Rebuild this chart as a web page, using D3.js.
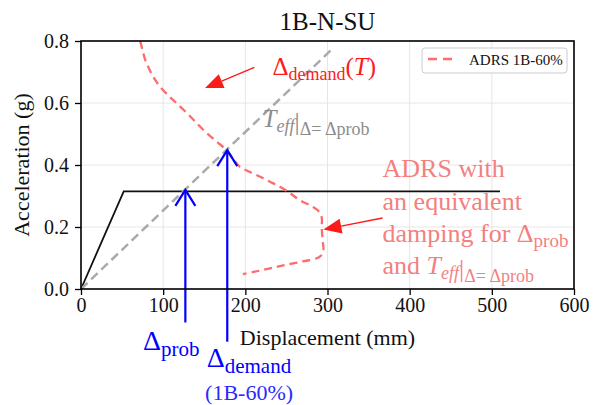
<!DOCTYPE html>
<html>
<head>
<meta charset="utf-8">
<script src="https://cdn.jsdelivr.net/npm/d3@7"></script>
<style>
  body { margin: 0; background: #fff; }
  text { font-family: "Liberation Serif", "Times New Roman", serif; }
</style>
</head>
<body>
<div id="chart"></div>
<script>
// ADRS curve (1B-60%)
var adrsDisp = [72, 75, 78, 83, 89, 97, 108, 118, 129, 139, 149, 163, 177, 185, 193, 205, 218, 230, 242, 254, 266, 280, 289, 293, 293, 294, 295, 293, 287, 270, 250, 236, 222, 210, 197];
var adrsAcc  = [0.80, 0.77, 0.74, 0.71, 0.68, 0.65, 0.62, 0.595, 0.567, 0.54, 0.513, 0.48, 0.448, 0.42, 0.395, 0.378, 0.362, 0.346, 0.33, 0.31, 0.287, 0.268, 0.252, 0.23, 0.2, 0.16, 0.126, 0.11, 0.099, 0.089, 0.078, 0.07, 0.062, 0.055, 0.048];

// capacity curve
var capDisp = [0, 52, 510];
var capAcc  = [0, 0.315, 0.315];

// effective period line
var teffDisp = [0, 306];
var teffAcc  = [0, 0.775];

// displacements marked with blue arrows
var arrowDisp = [127, 178];
var arrowAcc  = [0.32, 0.448];

var xTicks = [0, 100, 200, 300, 400, 500, 600];
var yTicks = [0, 0.2, 0.4, 0.6, 0.8];

var margin = {top: 41, right: 20, bottom: 116, left: 81};
var width = 594 - margin.left - margin.right,
    height = 405 - margin.top - margin.bottom;

var svg = d3.select("#chart").append("svg")
  .attr("width", 594).attr("height", 405)
  .attr("font-family", "'Liberation Serif', serif");

var g = svg.append("g")
  .attr("transform", "translate(" + margin.left + "," + margin.top + ")");

var x = d3.scaleLinear().domain([0, 600]).range([0, width]);
var y = d3.scaleLinear().domain([0, 0.8]).range([height, 0]);

// grid
g.append("g").selectAll("line").data(xTicks).enter().append("line")
  .attr("x1", function(d){ return x(d) }).attr("x2", function(d){ return x(d) })
  .attr("y1", 0).attr("y2", height)
  .attr("stroke", "#e6e6e6").attr("stroke-width", 1);
g.append("g").selectAll("line").data(yTicks).enter().append("line")
  .attr("y1", function(d){ return y(d) }).attr("y2", function(d){ return y(d) })
  .attr("x1", 0).attr("x2", width)
  .attr("stroke", "#e6e6e6").attr("stroke-width", 1);

var line = d3.line()
  .x(function(d){ return x(d[0]) })
  .y(function(d){ return y(d[1]) });

// capacity
g.append("path")
  .datum(d3.zip(capDisp, capAcc))
  .attr("d", line)
  .attr("fill", "none").attr("stroke", "#111").attr("stroke-width", 1.8);

// Teff line
g.append("path")
  .datum(d3.zip(teffDisp, teffAcc))
  .attr("d", line)
  .attr("fill", "none").attr("stroke", "#aaaaaa").attr("stroke-width", 2.5)
  .attr("stroke-dasharray", "9,5");

// ADRS curve
var adrsColor = "#ff6b6b";
g.append("path")
  .datum(d3.zip(adrsDisp, adrsAcc))
  .attr("d", line.curve(d3.curveCatmullRom))
  .attr("fill", "none").attr("stroke", adrsColor).attr("stroke-width", 2.3)
  .attr("stroke-dasharray", "8,5");
line.curve(d3.curveLinear);

// blue arrows
var arrowBottom = [-0.108, -0.17];
arrowDisp.forEach(function(d, i){
  var ax = x(d), top = y(arrowAcc[i]);
  g.append("line")
    .attr("x1", ax).attr("x2", ax)
    .attr("y1", y(arrowBottom[i])).attr("y2", top)
    .attr("stroke", "#0000ff").attr("stroke-width", 2.2);
  g.append("path")
    .attr("d", "M" + (ax - 10) + "," + (top + 16) + "L" + ax + "," + top + "L" + (ax + 10) + "," + (top + 16))
    .attr("fill", "none").attr("stroke", "#0000ff").attr("stroke-width", 2.2);
});

// axes
var xAxis = g.append("g")
  .attr("transform", "translate(0," + height + ")")
  .call(d3.axisBottom(x).tickValues(xTicks).tickSize(6).tickPadding(3));
var yAxis = g.append("g")
  .call(d3.axisLeft(y).tickValues(yTicks).tickSize(6).tickPadding(6).tickFormat(d3.format(".1f")));
[xAxis, yAxis].forEach(function(a){
  a.attr("font-family", "'Liberation Serif', serif").attr("font-size", 20);
  a.select(".domain").remove();
  a.selectAll("line").attr("stroke", "#000").attr("stroke-width", 1.3);
  a.selectAll("text").attr("fill", "#111");
});

// frame
g.append("rect")
  .attr("width", width).attr("height", height)
  .attr("fill", "none").attr("stroke", "#000").attr("stroke-width", 1.6);

// titles
svg.append("text")
  .attr("x", margin.left + width / 2).attr("y", 30)
  .attr("text-anchor", "middle").style("font-size", "25px").attr("fill", "#111")
  .text("1B-N-SU");
svg.append("text")
  .attr("x", margin.left + width / 2).attr("y", 345)
  .attr("text-anchor", "middle").style("font-size", "22px").attr("fill", "#111")
  .text("Displacement (mm)");
svg.append("text")
  .attr("transform", "translate(29," + (margin.top + height / 2) + ") rotate(-90)")
  .attr("text-anchor", "middle").style("font-size", "22px").attr("fill", "#111")
  .text("Acceleration (g)");

// rich text helper: parts = [text, size, dy, italic]
function rich(px, py, color, parts){
  var t = g.append("text").attr("x", px).attr("y", py).attr("fill", color);
  parts.forEach(function(p){
    t.append("tspan")
      .attr("dy", p[2] || 0)
      .style("font-size", p[1] + "px")
      .style("font-style", p[3] ? "italic" : "normal")
      .text(p[0]);
  });
  return t;
}

function redArrow(d0, a0, d1, a1, color){
  var x0 = x(d0), y0 = y(a0), x1 = x(d1), y1 = y(a1);
  var dx = x1 - x0, dy = y1 - y0, L = Math.sqrt(dx*dx + dy*dy), ux = dx/L, uy = dy/L;
  var hl = 18, hw = 7.5;
  var bx = x1 - ux*hl, by = y1 - uy*hl;
  g.append("line").attr("x1", x0).attr("y1", y0).attr("x2", bx).attr("y2", by)
    .attr("stroke", color).attr("stroke-width", 1.3);
  g.append("path")
    .attr("d", "M" + x1 + "," + y1 + "L" + (bx - uy*hw) + "," + (by + ux*hw) + "L" + (bx + uy*hw) + "," + (by - ux*hw) + "Z")
    .attr("fill", color);
}

// Δdemand(T)
rich(x(233), y(0.69), "#ff1a1a", [["Δ", 25], ["demand", 18, 5], ["(", 25, -5], ["T", 25, 0, true], [")", 25]]);
redArrow(211, 0.715, 151, 0.648, "#ff1a1a");

// Teff label
rich(x(221), y(0.523), "#8c8c8c", [["T", 25, 0, true], ["eff", 18, 5, true], ["|", 26, -2], ["Δ= Δprob", 18, 5]]);

// ADRS explanation
var adrsText = "#f47f7f";
rich(x(367), y(0.362), adrsText, [["ADRS with", 26]]);
rich(x(367), y(0.255), adrsText, [["an equivalent", 26]]);
rich(x(367), y(0.152), adrsText, [["damping for Δ", 26], ["prob", 19, 5]]);
rich(x(367), y(0.05), adrsText, [["and ", 26], ["T", 26, 0, true], ["eff", 18, 5, true], ["|", 26, -2], ["Δ= Δprob", 18, 5]]);
redArrow(367, 0.229, 295, 0.192, "#ff1a1a");

// blue labels
rich(x(75.5), y(-0.196), "#0000ff", [["Δ", 28], ["prob", 21, 6]]);
rich(x(153), y(-0.25), "#0000ff", [["Δ", 28], ["demand", 21, 6]]);
rich(x(151), y(-0.357), "#2a2aff", [["(1B-60%)", 22]]);

// legend
var leg = g.append("g").attr("transform", "translate(" + (width - 152) + ",7)");
leg.append("rect").attr("width", 145).attr("height", 25).attr("rx", 3)
  .attr("fill", "#fff").attr("stroke", "#cccccc").attr("stroke-width", 1);
leg.append("line").attr("x1", 6).attr("x2", 31).attr("y1", 11).attr("y2", 11)
  .attr("stroke", adrsColor).attr("stroke-width", 2.3).attr("stroke-dasharray", "9,6");
leg.append("text").attr("x", 47).attr("y", 16.5)
  .style("font-size", "15px").attr("fill", "#111").text("ADRS 1B-60%");
</script>
</body>
</html>
